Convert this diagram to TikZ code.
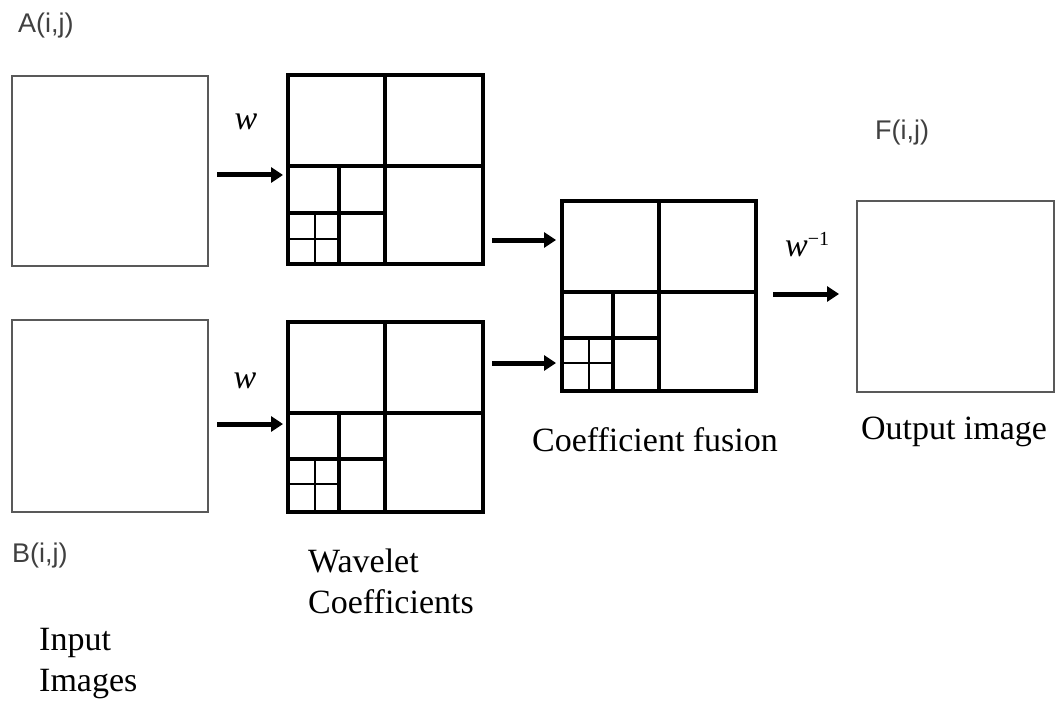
\documentclass[tikz,border=0pt]{standalone}
\usepackage{fontspec}
\setmainfont{Liberation Serif}
\newfontfamily\sanslbl{Liberation Sans}
\usetikzlibrary{arrows.meta,calc}
\begin{document}
\begin{tikzpicture}[x=1pt,y=-1pt,
 imgbox/.style={draw=black!65,line width=2.2pt,inner sep=0pt,outer sep=0pt},
 coefbox/.style={draw=black,line width=3.5pt,inner sep=0pt,outer sep=0pt},
 sub/.style={line width=3.3pt},
 fine/.style={line width=2.2pt},
 arr/.style={line width=5pt,-{Triangle[length=12pt,width=15pt]}},
 lbl/.style={font=\fontsize{34}{41}\selectfont,inner sep=0pt,align=left},
 sans/.style={font=\sanslbl\fontsize{27}{32}\selectfont,text=black!75,inner sep=0pt},
 op/.style={font=\fontsize{34}{38}\selectfont\itshape,inner sep=0pt}]
\useasboundingbox (0,0) rectangle (1056,703);

% image boxes
\node[imgbox,minimum width=196pt,minimum height=190pt] (A) at (110,171) {};
\node[imgbox,minimum width=196pt,minimum height=192pt] (B) at (110,416) {};
\node[imgbox,minimum width=197pt,minimum height=191pt] (O) at (955.5,296.5) {};

% coefficient boxes
\node[coefbox,minimum width=195pt,minimum height=189pt] (W1) at (385.5,169.5) {};
\node[coefbox,minimum width=195pt,minimum height=190pt] (W2) at (385.5,417) {};
\node[coefbox,minimum width=194pt,minimum height=190pt] (F) at (659,296) {};

% W1 subdivisions: L288 T75 R483 B264
\draw[sub] (385,75) -- (385,264);
\draw[sub] (288,166) -- (483,166);
\draw[sub] (339,166) -- (339,264);
\draw[sub] (288,213) -- (385,213);
\draw[fine] (315,213) -- (315,264);
\draw[fine] (288,239) -- (339,239);

% W2 subdivisions: L288 T322 R483 B512
\draw[sub] (385,322) -- (385,512);
\draw[sub] (288,413) -- (483,413);
\draw[sub] (339,413) -- (339,512);
\draw[sub] (288,459) -- (385,459);
\draw[fine] (315,459) -- (315,512);
\draw[fine] (288,484) -- (339,484);

% F subdivisions: L562 T201 R756 B391
\draw[sub] (659,201) -- (659,391);
\draw[sub] (562,292) -- (756,292);
\draw[sub] (613,292) -- (613,391);
\draw[sub] (562,338) -- (659,338);
\draw[fine] (589,338) -- (589,391);
\draw[fine] (562,363) -- (613,363);

% arrows
\draw[arr] ($(A.east)+(9,4)$) -- ($(A.east -| W1.west)+(-5,4)$);
\draw[arr] ($(B.east)+(9,8)$) -- ($(B.east -| W2.west)+(-5,8)$);
\draw[arr] ($(W1.east)+(9,70.5)$) -- ($(W1.east -| F.west)+(-6,70.5)$);
\draw[arr] ($(W2.east)+(9,-54)$) -- ($(W2.east -| F.west)+(-6,-54)$);
\draw[arr] ($(F.east)+(17,-2)$) -- ($(F.east -| O.west)+(-18,-2)$);

% operator labels
\node[op] (wA) at (246,122) {w};
\node[op] (wB) at (245,381) {w};
\node[op,anchor=west] (winv) at (785,245) {w\raisebox{11pt}{\upshape\fontsize{20}{22}\selectfont \char"2212 1}};

% sans labels
\node[sans,anchor=west] (lblA) at (18,26) {A(i,j)};
\node[sans,anchor=west] (lblB) at (12,556) {B(i,j)};
\node[sans,anchor=west] (lblF) at (875,133) {F(i,j)};

% captions
\node[lbl,anchor=north west] (tWave) at (308,549) {Wavelet\\Coefficients};
\node[lbl,anchor=north west] (tIn) at (39,628) {Input\\Images};
\node[lbl] (tFus) at (655,440) {Coefficient fusion};
\node[lbl] (tOut) at (954,432) {Output image};
\end{tikzpicture}
\end{document}
